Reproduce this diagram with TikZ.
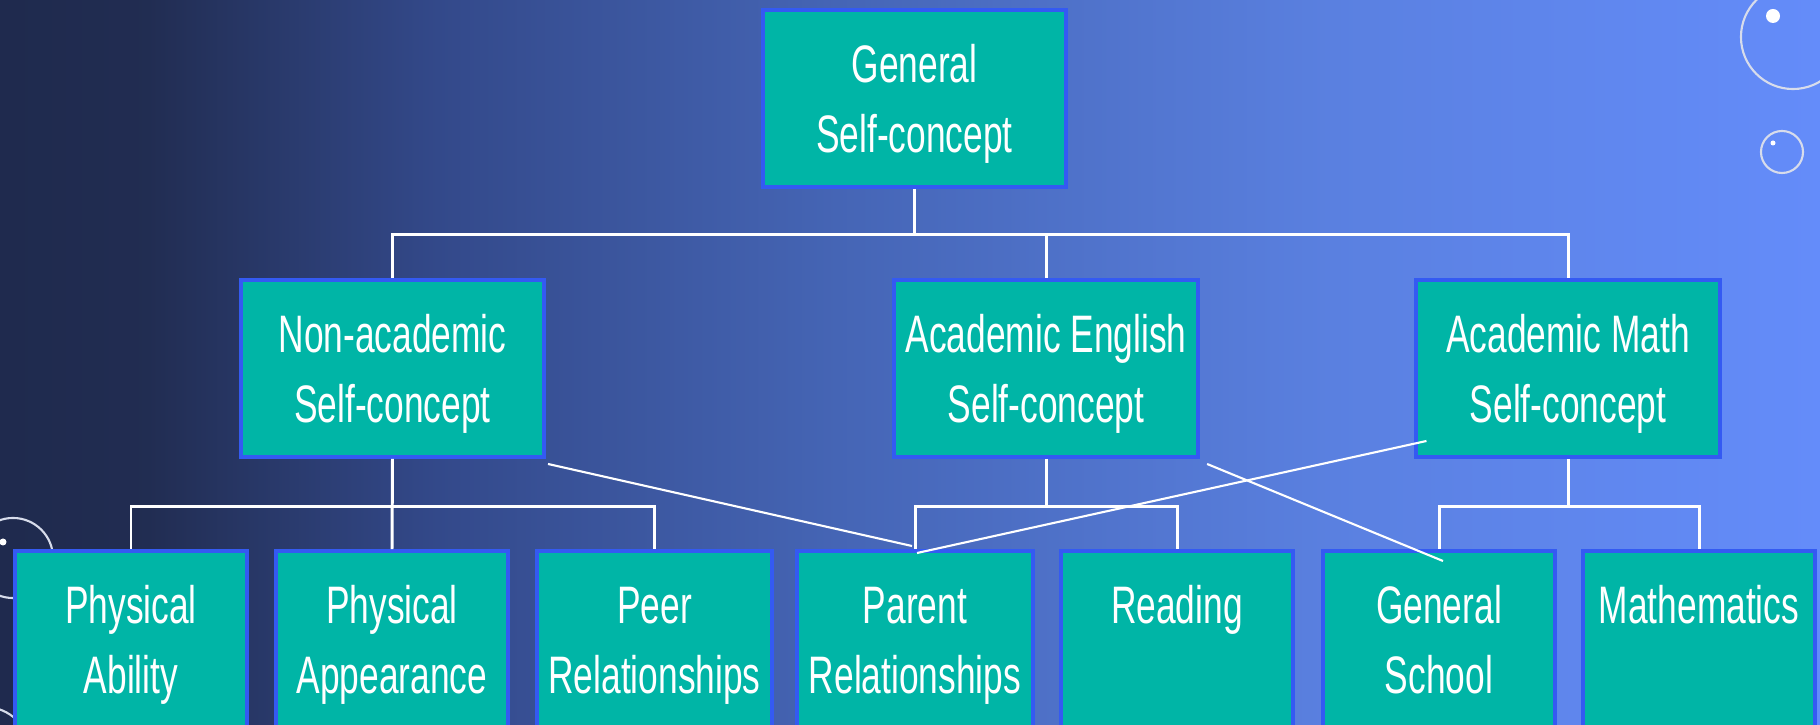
\documentclass[tikz,border=0pt]{standalone}
\usepackage{fontspec}
\newfontfamily\boxfont[FakeStretch=0.67]{Liberation Sans}
\usetikzlibrary{calc}

\definecolor{boxfill}{RGB}{0,181,166}
\definecolor{boxline}{RGB}{52,90,242}
\definecolor{ringcol}{RGB}{215,220,235}
\pgfdeclarehorizontalshading{slidebg}{100bp}{%
  rgb(0bp)=(0.12,0.165,0.305);
  rgb(25bp)=(0.12,0.165,0.305);
  rgb(29bp)=(0.13,0.175,0.32);
  rgb(37bp)=(0.2,0.286,0.541);
  rgb(48bp)=(0.271,0.396,0.71);
  rgb(61.5bp)=(0.353,0.502,0.878);
  rgb(75bp)=(0.392,0.549,0.98);
  rgb(100bp)=(0.392,0.549,0.98)}
% two text lines with fixed top and bottom
\newcommand{\twolines}[2]{\rule{0pt}{14pt}#1\\#2\rule[-3.2pt]{0pt}{3.2pt}}

\begin{document}
\begin{tikzpicture}[
    x=0.01cm, y=-0.01cm,
    box/.style={rectangle, draw=boxline, fill=boxfill, line width=1.1pt, minimum width=3.03cm, minimum height=1.77cm, align=center, text=white, font=\boxfont\fontsize{15}{20}\selectfont},
    leaf/.style={box, minimum width=2.32cm},
    link/.style={draw=white, line width=0.85pt},
    cross/.style={draw=white, line width=0.6pt},
    ring/.style={draw=ringcol, line width=0.6pt}
]
\useasboundingbox (0,0) rectangle (1820,725);
\clip (0,0) rectangle (1820,725);

% Background
\shade[shading=slidebg] (0,0) rectangle (1820,725);

% Bubbles
\draw[ring] (1793,37) circle [radius=0.52cm];
\fill[white] (1773,16) circle [radius=0.07cm];
\draw[ring] (1782,152) circle [radius=0.21cm];
\fill[white] (1773,143) circle [radius=0.025cm];
\draw[ring] (13,558) circle [radius=0.4cm];
\fill[white] (3,542) circle [radius=0.035cm];
\draw[ring] (-15,752) circle [radius=0.45cm];

% Top level
\node[box] (gen) at (914.5,98.5) {\twolines{General}{Self-concept}};

% Second level
\node[box] (nonac) at (392.5,368.5) {\twolines{Non-academic}{Self-concept}};
\node[box] (eng) at (1046,368.5) {\twolines{Academic English}{Self-concept}};
\node[box] (math) at (1568,368.5) {\twolines{Academic Math}{Self-concept}};

% Third level
\node[leaf] (phab) at (131,639.5) {\twolines{Physical}{Ability}};
\node[leaf] (phap) at (392,639.5) {\twolines{Physical}{Appearance}};
\node[leaf] (peer) at (654.5,639.5) {\twolines{Peer}{Relationships}};
\node[leaf] (parent) at (915,639.5) {\twolines{Parent}{Relationships}};
\node[leaf] (reading) at (1177,639.5) {\twolines{Reading}{}};
\node[leaf] (gensch) at (1439,639.5) {\twolines{General}{School}};
\node[leaf] (mathe) at (1699,639.5) {\twolines{Mathematics}{}};

% Tree lines
\draw[link] (gen.south) -- ++(0,46) coordinate (g1);
\draw[link] (nonac.north) |- (g1) -| (math.north);
\draw[link] (eng.north) -- (eng.north |- g1);

\draw[link] (nonac.south) -- (phap.north);
\draw[link] (phab.north) |- ($(nonac.south)+(0,48)$) -| (peer.north);

\draw[link] (eng.south) -- ++(0,48) coordinate (e1);
\draw[link] (parent.north) |- (e1) -| (reading.north);

\draw[link] (math.south) -- ++(0,48) coordinate (m1);
\draw[link] (gensch.north) |- (m1) -| (mathe.north);

% Cross links
\draw[cross] ($(nonac.south east)+(2,5)$) -- ($(parent.north)+(-3,-3)$);
\draw[cross] ($(parent.north)+(2,4)$) -- ($(math.south west)+(12,-18)$);
\draw[cross] ($(eng.south east)+(7,5)$) -- ($(gensch.north)+(4,12)$);
\end{tikzpicture}
\end{document}
